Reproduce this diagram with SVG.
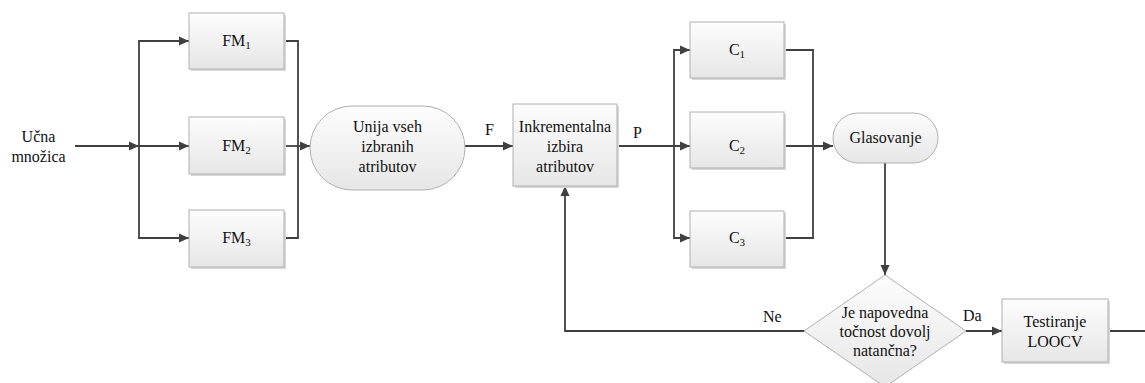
<svg xmlns="http://www.w3.org/2000/svg" width="1145" height="383" viewBox="0 0 1145 383">
<defs>
<linearGradient id="g" x1="0" y1="0" x2="0" y2="1">
<stop offset="0" stop-color="#fdfdfd"/>
<stop offset="1" stop-color="#e6e6e6"/>
</linearGradient>
<marker id="a" viewBox="0 0 10 10" refX="10" refY="5" markerWidth="10" markerHeight="10" markerUnits="userSpaceOnUse" orient="auto">
<path d="M0,0.5 L10,5 L0,9.5 Z" fill="#404040"/>
</marker>
</defs>
<style>
.n{fill:url(#g);stroke:#b0b0b0;stroke-width:1}
.sh{fill:#d8d8d8;stroke:none}
text{font-family:'Liberation Serif','Times New Roman',serif;font-size:16px;fill:#111}
.t{text-anchor:middle}
.c{fill:none;stroke:#404040;stroke-width:1.8}
.s{font-size:11px}
</style>
<g id="connectors">
<path class="c" d="M75,146 H139" marker-end="url(#a)"/>
<path class="c" d="M189,41 H139 V238 H189"/>
<path class="c" d="M179,41 H189" marker-end="url(#a)"/>
<path class="c" d="M179,238 H189" marker-end="url(#a)"/>
<path class="c" d="M139,146 H189" marker-end="url(#a)"/>
<path class="c" d="M284,41 H298 V238 H284"/>
<path class="c" d="M284,146 H310" marker-end="url(#a)"/>
<path class="c" d="M465,146 H513" marker-end="url(#a)"/>
<path class="c" d="M617,146 H690" marker-end="url(#a)"/>
<path class="c" d="M690,50 H674 V238 H690"/>
<path class="c" d="M680,50 H690" marker-end="url(#a)"/>
<path class="c" d="M680,238 H690" marker-end="url(#a)"/>
<path class="c" d="M784,50 H813 V238 H784"/>
<path class="c" d="M784,146 H833" marker-end="url(#a)"/>
<path class="c" d="M885,163 V275" marker-end="url(#a)"/>
<path class="c" d="M804,331 H565 V186" marker-end="url(#a)"/>
<path class="c" d="M966,331 H1002" marker-end="url(#a)"/>
<path class="c" d="M1108,331 H1145"/>
<text x="485" y="135">F</text>
<text x="633" y="138">P</text>
<text x="763" y="322">Ne</text>
<text x="963" y="321">Da</text>
</g>
<g id="input">
<text class="t" x="38.5" y="142">Učna</text>
<text class="t" x="38.5" y="162">množica</text>
</g>
<g id="fm1">
<rect class="sh" x="191" y="15" width="95" height="56"/>
<rect class="n" x="189" y="13" width="95" height="56"/>
<text class="t" x="236.5" y="46">FM<tspan class="s" dy="3">1</tspan></text>
</g>
<g id="fm2">
<rect class="sh" x="191" y="119" width="95" height="57"/>
<rect class="n" x="189" y="117" width="95" height="57"/>
<text class="t" x="236.5" y="151">FM<tspan class="s" dy="3">2</tspan></text>
</g>
<g id="fm3">
<rect class="sh" x="191" y="212" width="95" height="57"/>
<rect class="n" x="189" y="210" width="95" height="57"/>
<text class="t" x="236.5" y="243">FM<tspan class="s" dy="3">3</tspan></text>
</g>
<g id="unija">
<rect class="n" x="310" y="106" width="155" height="84" rx="42" ry="42"/>
<text class="t" x="387.5" y="132">Unija vseh</text>
<text class="t" x="387.5" y="152">izbranih</text>
<text class="t" x="387.5" y="172">atributov</text>
</g>
<g id="inkrementalna">
<rect class="sh" x="515" y="106" width="104" height="82"/>
<rect class="n" x="513" y="104" width="104" height="82"/>
<text class="t" x="565" y="132">Inkrementalna</text>
<text class="t" x="565" y="152">izbira</text>
<text class="t" x="565" y="172">atributov</text>
</g>
<g id="c1">
<rect class="sh" x="692" y="24" width="94" height="56"/>
<rect class="n" x="690" y="22" width="94" height="56"/>
<text class="t" x="737" y="55">C<tspan class="s" dy="3">1</tspan></text>
</g>
<g id="c2">
<rect class="sh" x="692" y="114" width="94" height="56"/>
<rect class="n" x="690" y="112" width="94" height="56"/>
<text class="t" x="737" y="151">C<tspan class="s" dy="3">2</tspan></text>
</g>
<g id="c3">
<rect class="sh" x="692" y="213" width="94" height="56"/>
<rect class="n" x="690" y="211" width="94" height="56"/>
<text class="t" x="737" y="243">C<tspan class="s" dy="3">3</tspan></text>
</g>
<g id="glasovanje">
<rect class="n" x="833" y="113" width="105" height="50" rx="25" ry="25"/>
<text class="t" x="885.5" y="143">Glasovanje</text>
</g>
<g id="decision">
<path class="n" d="M885,275 L966,331 L885,387 L804,331 Z"/>
<text class="t" x="885" y="318">Je napovedna</text>
<text class="t" x="885" y="337">točnost dovolj</text>
<text class="t" x="885" y="356">natančna?</text>
</g>
<g id="testiranje">
<rect class="sh" x="1004" y="301" width="106" height="63"/>
<rect class="n" x="1002" y="299" width="106" height="63"/>
<text class="t" x="1055" y="327">Testiranje</text>
<text class="t" x="1055" y="347">LOOCV</text>
</g>
</svg>
